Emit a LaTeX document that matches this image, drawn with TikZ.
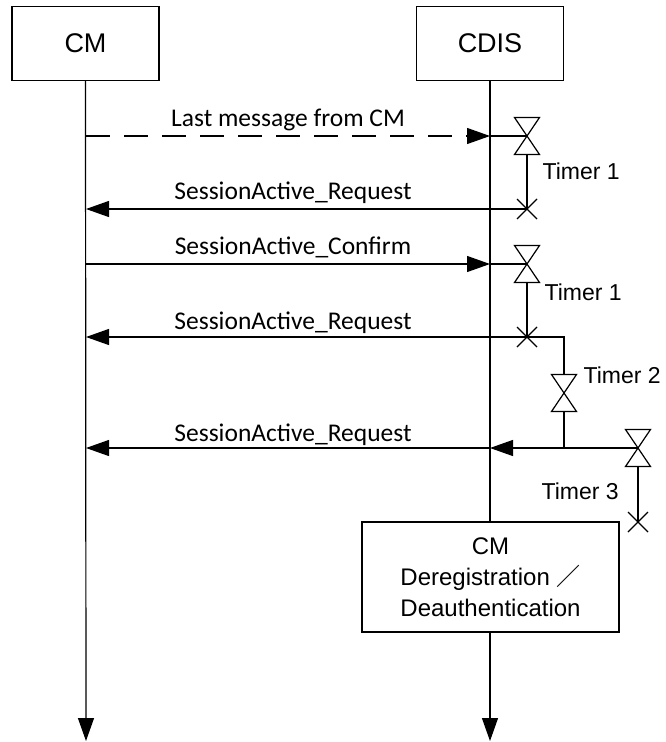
\documentclass[tikz,border=0pt]{standalone}
\usepackage{fontspec}
\setmainfont{Liberation Sans}
\newfontfamily\msgfont{Carlito}
\newfontfamily\cjkfont{Noto Sans CJK JP}
\usetikzlibrary{arrows.meta}
\tikzset{
  hourglass/.pic={\draw[fill=white, line width=1.2pt] (-12.5,-18.5) -- (12.5,-18.5) -- (-12.5,18.5) -- (12.5,18.5) -- cycle;},
  xmark/.pic={\draw[line width=1.1pt] (-10,-10) -- (10,10) (-10,10) -- (10,-10);}
}
\begin{document}
\begin{tikzpicture}[x=1pt,y=-1pt,
  line width=1.2pt,
  tip/.style={-{Triangle[length=23pt,width=16pt]}},
  dashline/.style={dash pattern=on 24pt off 14pt},
  actor/.style={draw, minimum width=147pt, minimum height=74pt, inner sep=0pt, font=\fontsize{27}{30}\selectfont},
  procbox/.style={draw, minimum width=257pt, minimum height=110pt, inner sep=0pt, align=center, font=\fontsize{24}{31}\selectfont},
  msg/.style={font=\msgfont\fontsize{25.5}{28}\selectfont, inner sep=0pt, anchor=base},
  tlabel/.style={font=\fontsize{23}{26}\selectfont, anchor=base west, inner sep=0pt}
]
\useasboundingbox (0,0) rectangle (666,742);

% actors
\node[actor] (cm) at (85.5,43.5) {CM};
\node[actor] (cdis) at (490,43.5) {CDIS};
\node[procbox] (dereg) at (490.5,577) {CM\\Deregistration {\cjkfont ／}\\Deauthentication};

% lifeline end points
\coordinate (cmend) at (86,741);
\coordinate (cdend) at (490,741);

% message rows
\coordinate (cm1) at (86,136);  \coordinate (cd1) at (490,136);
\coordinate (cm2) at (86,209);  \coordinate (cd2) at (490,209);
\coordinate (cm3) at (86,264);  \coordinate (cd3) at (490,264);
\coordinate (cm4) at (86,337);  \coordinate (cd4) at (490,337);
\coordinate (cm5) at (86,448);  \coordinate (cd5) at (490,448);

% timers
\coordinate (h1) at (527,136);  \coordinate (h1b) at (527,154.5); \coordinate (x1) at (527,209);
\coordinate (h2) at (527,264);  \coordinate (h2b) at (527,282.5); \coordinate (x2) at (527,337);
\coordinate (c2) at (564,337);  \coordinate (h3t) at (564,374.5); \coordinate (h3) at (564,393);
\coordinate (h3b) at (564,411.5); \coordinate (c3) at (564,448);
\coordinate (h4) at (638,448);  \coordinate (h4b) at (638,466.5); \coordinate (x4) at (638,522);

% lifelines
\draw[tip] (cm.south) -- (cmend);
\draw (cdis.south) -- (cdis.south |- dereg.north);
\draw[tip] (cdis.south |- dereg.south) -- (cdend);

% messages
\draw[dashline, tip] (cm1) -- (cd1);
\draw (cd1) -- (h1);
\node[msg] (m1) at (288,126) {Last message from CM};

\draw[tip] (x1) -- (cm2);
\node[msg] (m2) at (293,199.5) {SessionActive\_Request};

\draw[tip] (cm3) -- (cd3);
\draw (cd3) -- (h2);
\node[msg] (m3) at (293,254.5) {SessionActive\_Confirm};

\draw[tip] (x2) -- (cm4);
\draw (x2) -- (c2) -- (h3t);
\node[msg] (m4) at (293,329) {SessionActive\_Request};

\draw[tip] (h4) -- (cd5);
\draw[tip] (cd5) -- (cm5);
\draw (h3b) -- (c3);
\node[msg] (m5) at (293,441.7) {SessionActive\_Request};

% timer lines
\draw (h1b) -- (x1);
\draw (h2b) -- (x2);
\draw (h4b) -- (x4);

% timer symbols
\pic at (h1) {hourglass};
\pic at (h2) {hourglass};
\pic at (h3) {hourglass};
\pic at (h4) {hourglass};
\pic at (x1) {xmark};
\pic at (x2) {xmark};
\pic at (x4) {xmark};

% timer labels
\node[tlabel] (t1) at (542,179) {Timer 1};
\node[tlabel] (t1b) at (544,300.5) {Timer 1};
\node[tlabel] (t2) at (583,383) {Timer 2};
\node[tlabel] (t3) at (541,499) {Timer 3};
\end{tikzpicture}
\end{document}
